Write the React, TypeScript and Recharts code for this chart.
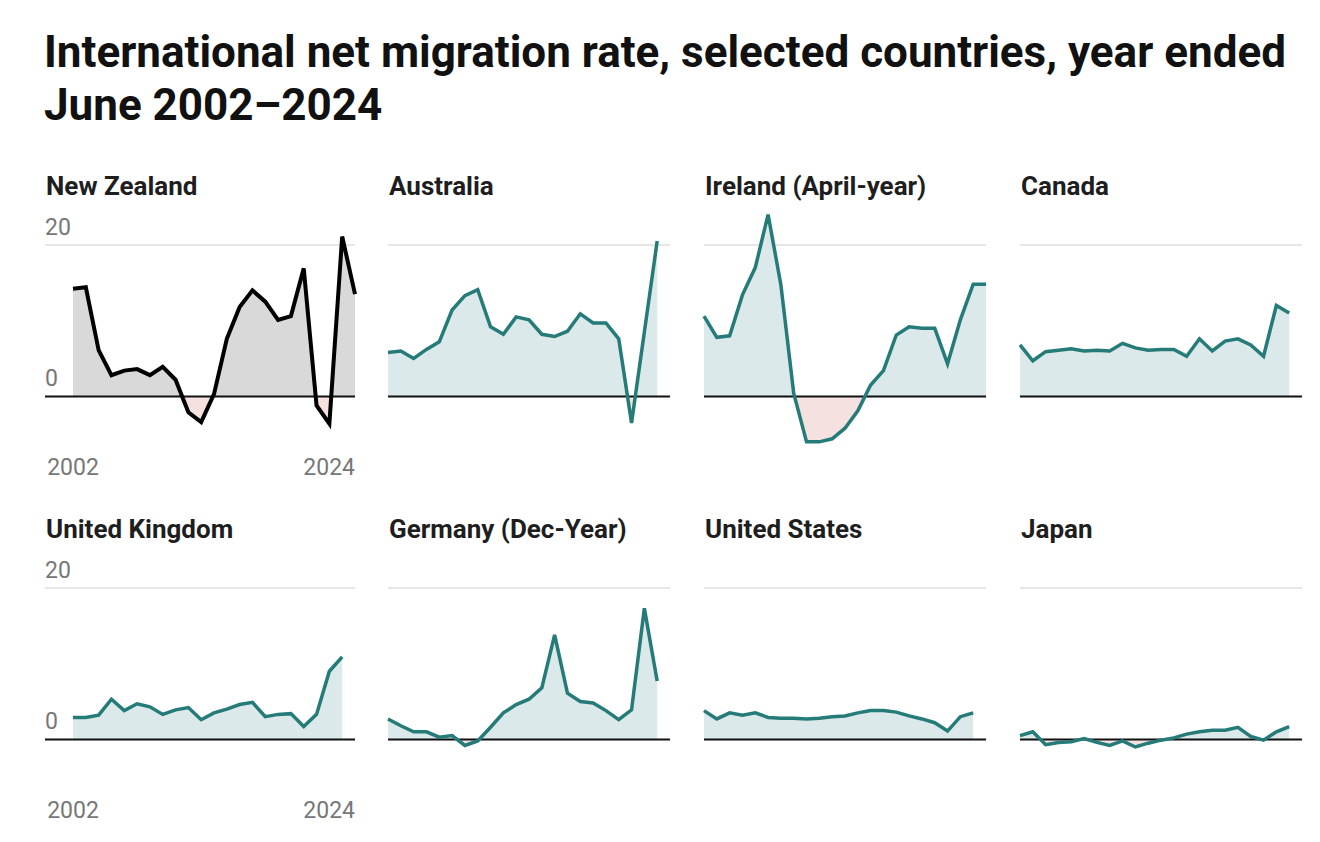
import { ComposedChart, Area, Line, XAxis, YAxis, ReferenceLine } from 'recharts';

// year ended June (Ireland April-year, Germany Dec-year)
const years = [
  2002, 2003, 2004, 2005, 2006, 2007, 2008, 2009, 2010, 2011, 2012, 2013,
  2014, 2015, 2016, 2017, 2018, 2019, 2020, 2021, 2022, 2023, 2024,
];
const yearTicks = [2002, 2024];
const rateTicks = [0, 20];

// net migration per 1,000 population
const newZealand = [14.2, 14.4, 6.1, 2.8, 3.4, 3.6, 2.8, 3.9, 2.2, -2.1, -3.4, 0.3, 7.6, 11.8, 14.0, 12.5, 10.1, 10.6, 16.9, -1.2, -3.6, 21.1, 13.5];
const australia = [5.8, 6.0, 5.0, 6.2, 7.2, 11.4, 13.3, 14.1, 9.2, 8.2, 10.5, 10.1, 8.2, 7.9, 8.6, 10.9, 9.7, 9.7, 7.6, -3.5, 8.5, 20.5];
const ireland = [10.6, 7.8, 8.0, 13.4, 17.0, 24.0, 14.7, 0.4, -6.0, -6.0, -5.6, -4.2, -1.9, 1.5, 3.4, 8.1, 9.2, 9.0, 9.0, 4.3, 10.1, 14.8, 14.8];
const canada = [6.8, 4.7, 5.9, 6.1, 6.3, 6.0, 6.1, 6.0, 7.0, 6.4, 6.1, 6.2, 6.2, 5.3, 7.6, 6.0, 7.3, 7.6, 6.8, 5.3, 12.0, 11.0];
const unitedKingdom = [2.9, 2.9, 3.2, 5.3, 3.8, 4.7, 4.3, 3.3, 3.9, 4.2, 2.6, 3.5, 4.0, 4.6, 4.9, 3.0, 3.3, 3.4, 1.7, 3.3, 9.0, 10.9];
const germany = [2.7, 1.8, 1.0, 1.0, 0.3, 0.5, -0.8, -0.2, 1.6, 3.5, 4.6, 5.3, 6.8, 13.8, 6.1, 5.0, 4.8, 3.8, 2.6, 3.9, 17.3, 7.7];
const unitedStates = [3.8, 2.7, 3.5, 3.2, 3.5, 2.9, 2.8, 2.8, 2.7, 2.8, 3.0, 3.1, 3.5, 3.8, 3.8, 3.6, 3.1, 2.7, 2.2, 1.1, 3.0, 3.5];
const japan = [0.5, 1.0, -0.7, -0.4, -0.3, 0.1, -0.4, -0.8, -0.2, -1.0, -0.5, -0.1, 0.2, 0.7, 1.0, 1.2, 1.2, 1.6, 0.4, -0.1, 1.0, 1.7];

const panels = [
  { id: 'nz', title: 'New Zealand', values: newZealand, row: 0, col: 0, dark: true },
  { id: 'au', title: 'Australia', values: australia, row: 0, col: 1 },
  { id: 'ie', title: 'Ireland (April-year)', values: ireland, row: 0, col: 2 },
  { id: 'ca', title: 'Canada', values: canada, row: 0, col: 3 },
  { id: 'uk', title: 'United Kingdom', values: unitedKingdom, row: 1, col: 0 },
  { id: 'de', title: 'Germany (Dec-Year)', values: germany, row: 1, col: 1 },
  { id: 'us', title: 'United States', values: unitedStates, row: 1, col: 2 },
  { id: 'jp', title: 'Japan', values: japan, row: 1, col: 3 },
];

const TEAL = '#247b78';
const TEAL_FILL = '#dce9ea';
const GREY_FILL = '#d9d9d9';
const NEG_FILL = '#f6e1e1';
const FONT = 'Roboto, "Noto Sans", sans-serif';

const Y_MIN = -8;
const Y_MAX = 25;
const PLOT_H = 250;
const AXIS_H = 30;
const M = { top: 10, right: 4, bottom: 4, left: 4 };
const colLeft = [45, 388, 704, 1020];
const colWidth = [310, 282, 282, 282];
const rowZero = [396, 739];
const rowTitleBase = [195, 538];

function RateLabel(text: string) {
  return (props: any) => (
    <text
      x={props.viewBox.x}
      y={props.viewBox.y - 10}
      fill="#777"
      fontSize={23}
      fontFamily={FONT}
    >
      {text}
    </text>
  );
}

function YearTick(props: any) {
  const { x, y, payload } = props;
  return (
    <text
      x={x}
      y={y}
      textAnchor={payload.value === yearTicks[0] ? 'middle' : 'end'}
      fill="#777"
      fontSize={23}
      fontFamily={FONT}
    >
      {payload.value}
    </text>
  );
}

function SmallMultiple({ id, title, values, row, col, dark }: any) {
  const data = values.map((v: number, i: number) => ({ year: years[i], value: v }));
  const hi = Math.max(0, ...values);
  const lo = Math.min(0, ...values);
  const split = hi === lo ? 1 : hi / (hi - lo);
  const first = col === 0;
  const unit = PLOT_H / (Y_MAX - Y_MIN);
  const chartTop = rowZero[row] - M.top - Y_MAX * unit;
  const width = colWidth[col] + M.left + M.right;
  const height = M.top + PLOT_H + AXIS_H + M.bottom;
  const plotBottom = rowZero[row] - Y_MIN * unit;

  return (
    <>
      <div
        style={{
          position: 'absolute',
          left: colLeft[col] + 1,
          top: rowTitleBase[row] - 24.5,
          fontFamily: FONT,
          fontWeight: 700,
          fontSize: 26,
          lineHeight: '31px',
          color: '#1e1e1e',
          whiteSpace: 'nowrap',
        }}
      >
        {title}
      </div>
      <div style={{ position: 'absolute', left: colLeft[col] - M.left, top: chartTop }}>
        <ComposedChart width={width} height={height} data={data} margin={M}>
          <defs>
            <linearGradient id={`fill-${id}`} x1="0" y1="0" x2="0" y2="1">
              <stop offset={0} stopColor={dark ? GREY_FILL : TEAL_FILL} />
              <stop offset={split} stopColor={dark ? GREY_FILL : TEAL_FILL} />
              <stop offset={split} stopColor={NEG_FILL} />
              <stop offset={1} stopColor={NEG_FILL} />
            </linearGradient>
          </defs>
          <XAxis
            type="number"
            dataKey="year"
            domain={[years[0], years[years.length - 1]]}
            ticks={first ? yearTicks : []}
            interval={0}
            padding={{ left: first ? 28 : 0, right: 0 }}
            height={AXIS_H}
            axisLine={false}
            tickLine={false}
            tickSize={0}
            tickMargin={rowZero[row] + 79 - plotBottom}
            tick={first ? <YearTick /> : false}
          />
          <YAxis hide type="number" domain={[Y_MIN, Y_MAX]} />
          <ReferenceLine
            y={rateTicks[1]}
            stroke="#e6e6e6"
            strokeWidth={2}
            label={first ? RateLabel(String(rateTicks[1])) : undefined}
          />
          <Area
            dataKey="value"
            type="linear"
            stroke="none"
            fill={`url(#fill-${id})`}
            fillOpacity={1}
            isAnimationActive={false}
          />
          <ReferenceLine
            y={rateTicks[0]}
            stroke="#111"
            strokeWidth={2}
            label={first ? RateLabel(String(rateTicks[0])) : undefined}
          />
          <Line
            dataKey="value"
            type="linear"
            stroke={dark ? '#000' : TEAL}
            strokeWidth={dark ? 4 : 3.5}
            dot={false}
            activeDot={false}
            isAnimationActive={false}
          />
        </ComposedChart>
      </div>
    </>
  );
}

export default function App() {
  return (
    <div
      style={{
        position: 'absolute',
        left: 0,
        top: 0,
        width: 1320,
        height: 842,
        background: '#fff',
        fontFamily: FONT,
      }}
    >
      <div
        style={{
          position: 'absolute',
          left: 44,
          top: 25.5,
          fontSize: 44,
          fontWeight: 700,
          lineHeight: '53px',
          color: '#111',
          whiteSpace: 'nowrap',
        }}
      >
        International net migration rate, selected countries, year ended
        <br />
        June 2002–2024
      </div>
      {panels.map((p) => (
        <SmallMultiple key={p.id} {...p} />
      ))}
    </div>
  );
}
